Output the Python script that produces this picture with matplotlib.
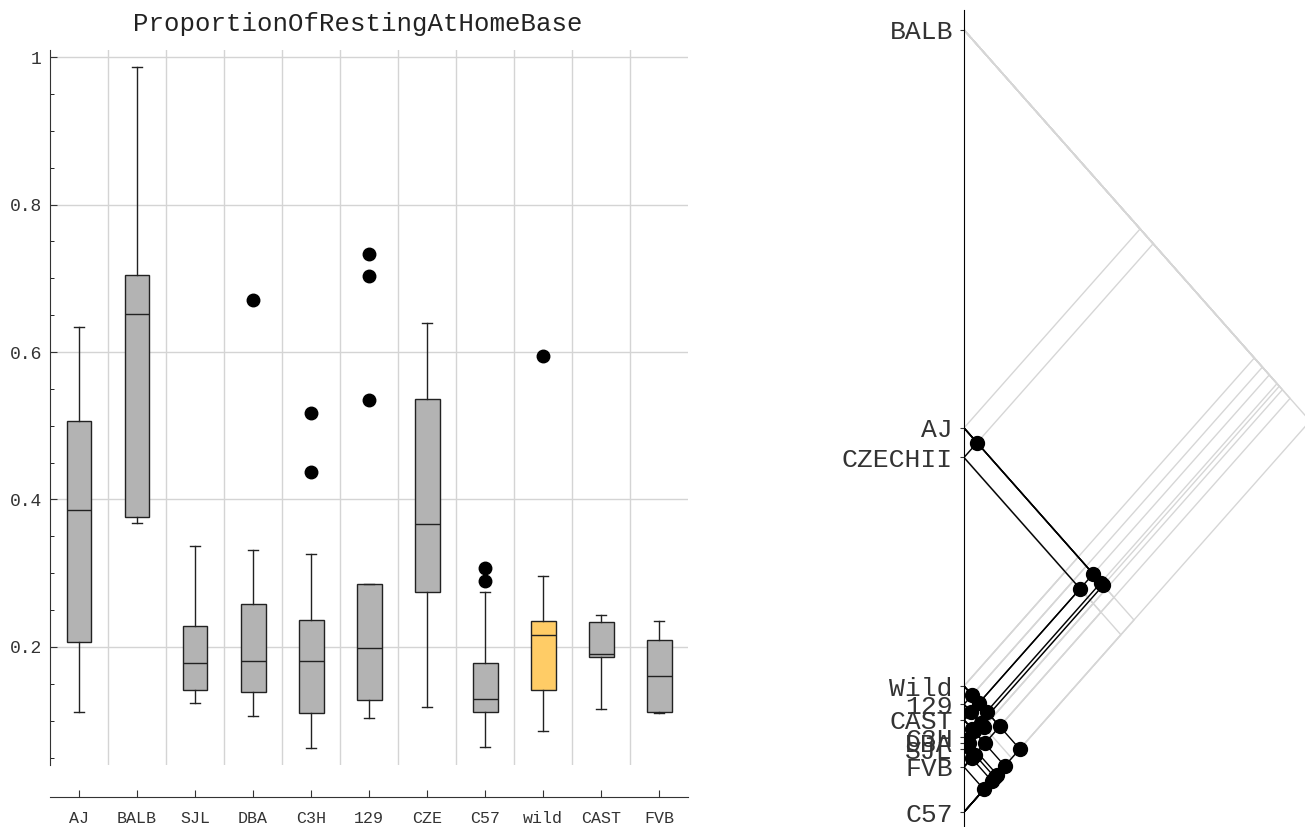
import matplotlib
matplotlib.use("Agg")
import matplotlib.pyplot as plt
from itertools import combinations

plt.rcParams['font.family'] = ['Liberation Mono', 'DejaVu Sans Mono']

# ---- box plot data ----
strains = ["AJ", "BALB", "SJL", "DBA", "C3H", "129", "CZE", "C57", "wild", "CAST", "FVB"]
whislo = [0.112, 0.368, 0.124, 0.107, 0.063, 0.104, 0.119, 0.065, 0.086, 0.116, 0.110]
q1 = [0.207, 0.376, 0.142, 0.139, 0.110, 0.128, 0.275, 0.112, 0.142, 0.186, 0.112]
med = [0.386, 0.652, 0.178, 0.181, 0.181, 0.199, 0.367, 0.130, 0.216, 0.190, 0.160]
q3 = [0.506, 0.704, 0.228, 0.258, 0.237, 0.285, 0.536, 0.178, 0.235, 0.234, 0.210]
whishi = [0.634, 0.986, 0.337, 0.332, 0.326, 0.286, 0.639, 0.275, 0.296, 0.243, 0.235]
outliers = [[], [], [], [0.671], [0.517, 0.437], [0.733, 0.703, 0.535], [], [0.307, 0.289], [0.594], [], []]
box_colors = ["#b3b3b3"] * 11
box_colors[8] = "#ffcc66"

# ---- pairwise comparison diagram (right) ----
groups = ["BALB", "AJ", "CZECHII", "Wild", "129", "CAST", "C3H", "DBA", "SJL", "FVB", "C57"]
group_pos = [0.600, 0.371, 0.354, 0.2225, 0.212, 0.203, 0.193, 0.190, 0.186, 0.176, 0.150]
same_pairs = [
    ("AJ", "CZECHII"), ("AJ", "CAST"), ("AJ", "C3H"), ("AJ", "DBA"), ("CZECHII", "CAST"),
    ("Wild", "129"), ("Wild", "CAST"), ("Wild", "C3H"), ("Wild", "FVB"), ("Wild", "C57"),
    ("129", "CAST"), ("129", "DBA"), ("129", "SJL"),
    ("CAST", "C3H"), ("CAST", "DBA"), ("CAST", "FVB"), ("CAST", "C57"),
    ("C3H", "DBA"), ("C3H", "SJL"), ("C3H", "C57"),
    ("DBA", "SJL"), ("DBA", "FVB"), ("DBA", "C57"),
    ("SJL", "FVB"), ("SJL", "C57"), ("FVB", "C57"),
]

fig = plt.figure(figsize=(13.05, 8.27), dpi=100)

# left: box plot
ax = fig.add_axes([0.0383, 0.075, 0.489, 0.8645])
stats = []
for i in range(len(strains)):
    stats.append({"label": strains[i], "whislo": whislo[i], "q1": q1[i], "med": med[i],
                  "q3": q3[i], "whishi": whishi[i], "fliers": outliers[i]})
bp = ax.bxp(stats, positions=range(1, 12), widths=0.43, patch_artist=True, capwidths=0.18,
            boxprops=dict(edgecolor="#222222", linewidth=1.0),
            medianprops=dict(color="#222222", linewidth=1.0),
            whiskerprops=dict(color="#222222", linewidth=1.0),
            capprops=dict(color="#222222", linewidth=1.0),
            flierprops=dict(marker="o", markerfacecolor="black", markeredgecolor="black", markersize=9))
for patch, c in zip(bp["boxes"], box_colors):
    patch.set_facecolor(c)

ax.set_xlim(0.5, 11.5)
ax.set_ylim(0.04, 1.0095)
for xg in range(1, 11):
    ax.axvline(xg + 0.5, color="#d4d4d4", linewidth=1, zorder=0)
for yg in [0.2, 0.4, 0.6, 0.8, 1.0]:
    ax.axhline(yg, color="#d4d4d4", linewidth=1, zorder=0)
ax.set_yticks([0.2, 0.4, 0.6, 0.8, 1.0])
ax.set_yticklabels(["0.2", "0.4", "0.6", "0.8", "1"])
ax.set_yticks([0.05, 0.1, 0.15, 0.25, 0.3, 0.35, 0.45, 0.5, 0.55, 0.65, 0.7, 0.75, 0.85, 0.9, 0.95], minor=True)
ax.tick_params(axis="y", direction="in", length=5, width=0.8, labelsize=13, colors="#333333", pad=6)
ax.tick_params(axis="y", which="minor", direction="in", length=3, width=0.6)
ax.set_xticks(range(1, 12))
ax.set_xticklabels(strains)
ax.tick_params(axis="x", direction="in", length=5, width=0.8, labelsize=12, colors="#333333", pad=10)
ax.spines["top"].set_visible(False)
ax.spines["right"].set_visible(False)
ax.spines["bottom"].set_position(("outward", 23))
ax.spines["bottom"].set_color("#333333")
ax.spines["left"].set_color("#333333")
ax.set_title("ProportionOfRestingAtHomeBase", fontsize=18.5, color="#222222", pad=14, x=0.483)

# right: comparison diagram
ax2 = fig.add_axes([0.7387, 0.0, 0.2613, 0.988])
pos = dict(zip(groups, group_pos))
black = set(frozenset(p) for p in same_pairs)
for a, b in combinations(groups, 2):
    if frozenset((a, b)) in black:
        continue
    va, vb = pos[a], pos[b]
    ax2.plot([0, abs(va - vb) / 2, 0], [va, (va + vb) / 2, vb], color="#d6d6d6", linewidth=1, zorder=1)
for a, b in same_pairs:
    va, vb = pos[a], pos[b]
    ax2.plot([0, abs(va - vb) / 2, 0], [va, (va + vb) / 2, vb], color="black", linewidth=1, zorder=2)
    ax2.plot(abs(va - vb) / 2, (va + vb) / 2, "o", color="black", markersize=10, zorder=3)

ax2.set_xlim(0, 0.2217)
ax2.set_ylim(0.1414, 0.6115)
ax2.set_xticks([])
ax2.set_yticks(group_pos)
ax2.set_yticklabels(groups)
ax2.tick_params(axis="y", length=3, width=0.8, labelsize=19, colors="#333333", pad=5)
for s in ["top", "right", "bottom"]:
    ax2.spines[s].set_visible(False)
ax2.spines["left"].set_color("black")

fig.savefig("out.png", dpi=100)
